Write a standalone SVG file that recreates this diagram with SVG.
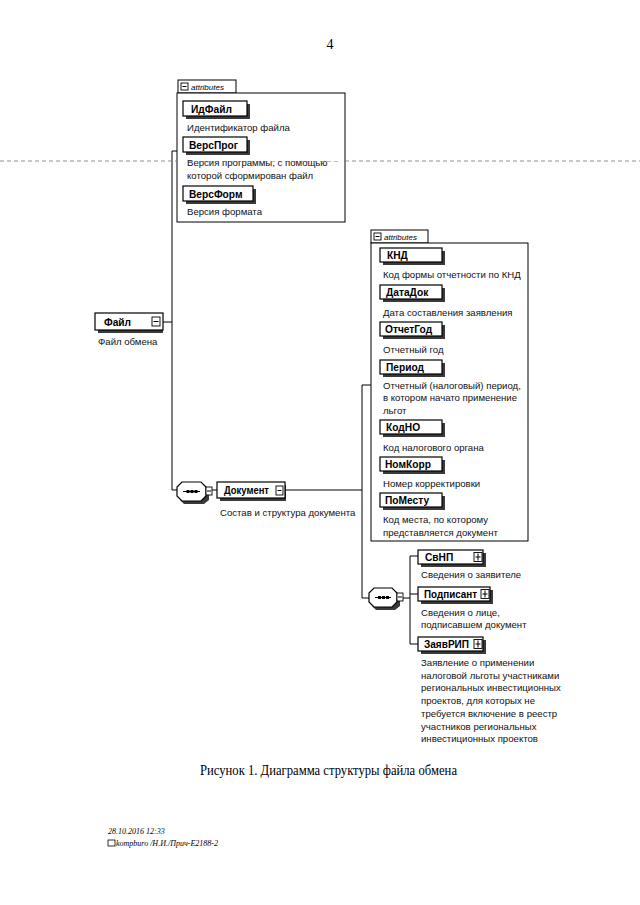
<svg xmlns="http://www.w3.org/2000/svg" width="640" height="905" viewBox="0 0 640 905">
<style>
.bg{fill:#ffffff}
.el{fill:#ffffff;stroke:#000;stroke-width:1.2}
.sh{fill:#3a3a3a}
.nm{font-family:"Liberation Sans",Arial,sans-serif;font-size:10.2px;font-weight:bold;fill:#000}
.ds{font-family:"Liberation Sans",Arial,sans-serif;font-size:9.6px;fill:#111}
.tab{font-family:"Liberation Sans",Arial,sans-serif;font-size:8px;font-style:italic;fill:#000}
.box{fill:#fff;stroke:#000;stroke-width:1}
.ln{stroke:#000;stroke-width:1;fill:none}
.ic{fill:#fff;stroke:#000;stroke-width:0.9}
.cap{font-family:"Liberation Serif","Times New Roman",serif;font-size:14px;fill:#000}
.ft{font-family:"Liberation Serif","Times New Roman",serif;font-size:8px;font-style:italic;fill:#000}
.scan{stroke:#777;stroke-width:0.8;stroke-dasharray:4 3;fill:none}
</style>
<rect class="bg" x="0" y="0" width="640" height="905"/>
<text x="330" y="49" class="cap" font-size="13" text-anchor="middle">4</text>

<g id="connectors">
<path class="ln" d="M172,151 H177 M163,322 H172 M172,151 V490 H177"/>
<path class="ln" d="M212,490 H217 M285,490 H362 M362,385 H371 M362,385 V598 H369"/>
<path class="ln" d="M403,598 H410 M410,556 V644 M410,556 H418 M410,594 H418 M410,644 H418"/>
</g>

<g id="attributes1">
<rect class="box" x="178" y="80" width="58" height="13"/>
<rect class="ic" x="181" y="83" width="7" height="7"/><path class="ln" d="M182.5,86.5 H186.5"/>
<text x="191" y="90" class="tab">attributes</text>
<rect class="box" x="177" y="93" width="168" height="129"/>
</g>
<g id="ИдФайл">
<rect class="sh" x="186" y="104" width="64" height="15"/>
<rect class="el" x="183" y="101" width="64" height="15"/>
<text x="191" y="112.5" class="nm">ИдФайл</text>
<text x="187" y="131" class="ds">Идентификатор файла</text>
</g>
<g id="ВерсПрог">
<rect class="sh" x="186" y="140" width="64" height="15"/>
<rect class="el" x="183" y="137" width="64" height="15"/>
<text x="189" y="148.5" class="nm">ВерсПрог</text>
<text x="187" y="166" class="ds">Версия программы, с помощью</text>
<text x="187" y="179" class="ds">которой сформирован файл</text>
</g>
<g id="ВерсФорм">
<rect class="sh" x="186" y="189" width="70" height="15"/>
<rect class="el" x="183" y="186" width="70" height="15"/>
<text x="189" y="197.5" class="nm">ВерсФорм</text>
<text x="187" y="215" class="ds">Версия формата</text>
</g>

<g id="Файл">
<rect class="sh" x="98" y="316" width="65" height="17"/>
<rect class="el" x="95" y="313" width="68" height="17"/>
<text x="104" y="325.5" class="nm">Файл</text>
<rect class="ic" x="152" y="317" width="8" height="9"/><path class="ln" d="M153.5,321.5 H158.5"/>
<text x="98" y="345" class="ds">Файл обмена</text>
</g>

<g id="sequence1">
<path class="sh" d="M184,485 H204 L209,490 V500 L204,504 H184 L180,500 V490 Z"/>
<path class="el" d="M182,482 H201 L206,487 V496 L201,501 H182 L177,496 V487 Z"/>
<path class="ln" d="M183,491.5 H200"/>
<rect x="186.5" y="490" width="3" height="3" fill="#000"/><rect x="190.5" y="490" width="3" height="3" fill="#000"/><rect x="194.5" y="490" width="3" height="3" fill="#000"/>
<rect class="ic" x="206" y="487" width="6" height="8"/><path class="ln" d="M207,491 H211"/>
</g>

<g id="Документ">
<rect class="sh" x="220" y="485" width="66" height="16"/>
<rect class="el" x="217" y="482" width="68" height="16"/>
<text x="224" y="494" class="nm" textLength="45" lengthAdjust="spacingAndGlyphs">Документ</text>
<rect class="ic" x="276" y="486" width="7" height="9"/><path class="ln" d="M277.5,490.5 H281.5"/>
<text x="220" y="516" class="ds">Состав и структура документа</text>
</g>

<g id="attributes2">
<rect class="box" x="371" y="230" width="57" height="13"/>
<rect class="ic" x="374" y="233" width="7" height="7"/><path class="ln" d="M375.5,236.5 H379.5"/>
<text x="384" y="240" class="tab">attributes</text>
<rect class="box" x="371" y="243" width="157" height="298"/>
</g>
<g id="КНД">
<rect class="sh" x="383" y="251" width="62" height="14"/>
<rect class="el" x="380" y="248" width="62" height="14"/>
<text x="387" y="259" class="nm">КНД</text>
<text x="383" y="278" class="ds">Код формы отчетности по КНД</text>
</g>
<g id="ДатаДок">
<rect class="sh" x="383" y="288" width="62" height="14"/>
<rect class="el" x="380" y="285" width="62" height="14"/>
<text x="386" y="296" class="nm">ДатаДок</text>
<text x="383" y="316" class="ds">Дата составления заявления</text>
</g>
<g id="ОтчетГод">
<rect class="sh" x="383" y="325" width="62" height="14"/>
<rect class="el" x="380" y="322" width="62" height="14"/>
<text x="385" y="333" class="nm">ОтчетГод</text>
<text x="383" y="353" class="ds">Отчетный год</text>
</g>
<g id="Период">
<rect class="sh" x="383" y="363" width="62" height="14"/>
<rect class="el" x="380" y="360" width="62" height="14"/>
<text x="386" y="371" class="nm">Период</text>
<text x="383" y="388.5" class="ds">Отчетный (налоговый) период,</text>
<text x="383" y="401" class="ds">в котором начато применение</text>
<text x="383" y="413.5" class="ds">льгот</text>
</g>
<g id="КодНО">
<rect class="sh" x="383" y="423" width="62" height="14"/>
<rect class="el" x="380" y="420" width="62" height="14"/>
<text x="386" y="431" class="nm">КодНО</text>
<text x="383" y="450.5" class="ds">Код налогового органа</text>
</g>
<g id="НомКорр">
<rect class="sh" x="383" y="460" width="62" height="14"/>
<rect class="el" x="380" y="457" width="62" height="14"/>
<text x="385" y="468" class="nm">НомКорр</text>
<text x="383" y="486.5" class="ds">Номер корректировки</text>
</g>
<g id="ПоМесту">
<rect class="sh" x="383" y="496" width="62" height="14"/>
<rect class="el" x="380" y="493" width="62" height="14"/>
<text x="385" y="504" class="nm">ПоМесту</text>
<text x="383" y="522.5" class="ds">Код места, по которому</text>
<text x="383" y="535.5" class="ds">представляется документ</text>
</g>

<g id="sequence2">
<path class="sh" d="M376,591 H395 L400,596 V606 L395,610 H376 L372,606 V596 Z"/>
<path class="el" d="M374,588 H392 L397,593 V602 L392,607 H374 L369,602 V593 Z"/>
<path class="ln" d="M375,597.5 H391"/>
<rect x="378" y="596" width="3" height="3" fill="#000"/><rect x="382" y="596" width="3" height="3" fill="#000"/><rect x="386" y="596" width="3" height="3" fill="#000"/>
<rect class="ic" x="397" y="593" width="6" height="8"/><path class="ln" d="M398,597 H402"/>
</g>

<g id="СвНП">
<rect class="sh" x="421" y="553" width="65" height="14"/>
<rect class="el" x="418" y="550" width="65" height="14"/>
<text x="425" y="561" class="nm">СвНП</text>
<rect class="ic" x="474" y="552.5" width="8" height="9"/><path class="ln" d="M475.5,557 H480.5 M478,553.5 V560.5"/>
<text x="421" y="578" class="ds">Сведения о заявителе</text>
</g>
<g id="Подписант">
<rect class="sh" x="421" y="590" width="72" height="14"/>
<rect class="el" x="418" y="587" width="72" height="14"/>
<text x="424" y="598" class="nm" textLength="53" lengthAdjust="spacingAndGlyphs">Подписант</text>
<rect class="ic" x="481" y="589.5" width="8" height="9"/><path class="ln" d="M482.5,594 H487.5 M485,590.5 V597.5"/>
<text x="421" y="615.5" class="ds">Сведения о лице,</text>
<text x="421" y="628" class="ds">подписавшем документ</text>
</g>
<g id="ЗаявРИП">
<rect class="sh" x="421" y="640" width="65" height="14"/>
<rect class="el" x="418" y="637" width="65" height="14"/>
<text x="424" y="648" class="nm" textLength="45" lengthAdjust="spacingAndGlyphs">ЗаявРИП</text>
<rect class="ic" x="474" y="639.5" width="8" height="9"/><path class="ln" d="M475.5,644 H480.5 M478,640.5 V647.5"/>
<text x="421" y="666" class="ds">Заявление о применении</text>
<text x="421" y="678.7" class="ds">налоговой льготы участниками</text>
<text x="421" y="691.4" class="ds">региональных инвестиционных</text>
<text x="421" y="704.1" class="ds">проектов, для которых не</text>
<text x="421" y="716.8" class="ds">требуется включение в реестр</text>
<text x="421" y="729.5" class="ds">участников региональных</text>
<text x="421" y="742.2" class="ds">инвестиционных проектов</text>
</g>

<path class="scan" d="M0,161 H176 M345,161 H640"/>
<path class="scan" d="M187,161.5 H340" stroke-opacity="0.6"/>

<text x="200" y="775" class="cap" textLength="257" lengthAdjust="spacingAndGlyphs">Рисунок 1. Диаграмма структуры файла обмена</text>

<text x="108" y="834" class="ft">28.10.2016 12:33</text>
<rect x="108" y="840" width="7" height="6" fill="none" stroke="#000" stroke-width="0.8"/>
<text x="116" y="846" class="ft">kompburo /Н.И./Прич-E2188-2</text>
</svg>
